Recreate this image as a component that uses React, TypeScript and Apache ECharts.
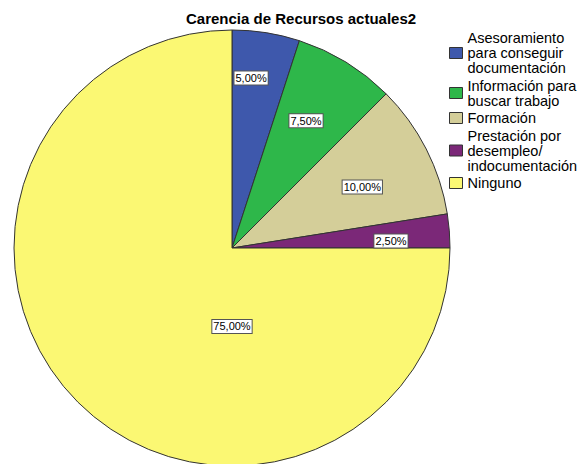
import React, { useEffect, useRef } from "react";
import * as echarts from "echarts";

const title = "Carencia de Recursos actuales2";
const categories = [
  "Asesoramiento\npara conseguir\ndocumentación",
  "Información para\nbuscar trabajo",
  "Formación",
  "Prestación por\ndesempleo/\nindocumentación",
  "Ninguno",
];
const counts = [2, 3, 4, 1, 30];
const colors = ["#3E58AC", "#2EB74A", "#D4CE99", "#7B2878", "#FBF873"];
// placement of the percentage labels: fraction of the radius, and angle shift (deg) from the slice middle
const labelRadiusFactor = [0.785, 0.675, 0.66, 0.73, 0.36];
const labelAngleShift = [-2.6, -1.3, 1.9, 2, -45];

const CX = 232;
const CY = 248;
const R = 218;
const FONT = "'Liberation Sans', Arial, sans-serif";

export default function App() {
  const ref = useRef<HTMLDivElement>(null);
  useEffect(() => {
    if (!ref.current) return;
    const chart = echarts.init(ref.current, undefined, { renderer: "svg" });
    const total = counts.reduce((a, b) => a + b, 0);
    chart.setOption({
      animation: false,
      backgroundColor: "#ffffff",
      title: {
        text: title,
        left: 186,
        top: 11,
        padding: 0,
        textStyle: { fontFamily: FONT, fontSize: 15, fontWeight: "bold", color: "#000" },
      },
      legend: {
        orient: "vertical",
        left: 449,
        top: 30.5,
        padding: 0,
        itemGap: 2.5,
        itemWidth: 13,
        itemHeight: 11,
        icon: "rect",
        selectedMode: false,
        itemStyle: { borderColor: "#333", borderWidth: 1 },
        textStyle: { fontFamily: FONT, fontSize: 14.5, lineHeight: 15, color: "#000" },
        data: categories,
      },
      series: [
        {
          type: "pie",
          center: [CX, CY],
          radius: [0, R],
          startAngle: 90,
          clockwise: true,
          silent: true,
          avoidLabelOverlap: false,
          itemStyle: { borderColor: "#333", borderWidth: 1 },
          label: {
            show: true,
            position: "inside",
            formatter: (p: any) =>
              ((p.value / total) * 100).toFixed(2).replace(".", ",") + "%",
            fontFamily: FONT,
            fontSize: 11,
            lineHeight: 12,
            color: "#000",
            backgroundColor: "#fff",
            borderColor: "#555",
            borderWidth: 1,
            padding: [1, 1, 0, 1],
          },
          labelLine: { show: false },
          labelLayout: (params: any) => {
            const i = params.dataIndex;
            let before = 0;
            for (let k = 0; k < i; k++) before += counts[k];
            const mid =
              ((before + counts[i] / 2) / total) * Math.PI * 2 +
              (labelAngleShift[i] * Math.PI) / 180;
            const r = R * labelRadiusFactor[i];
            return {
              x: CX + r * Math.sin(mid),
              y: CY - r * Math.cos(mid),
              align: "center",
              verticalAlign: "middle",
            };
          },
          data: categories.map((name, i) => ({
            name,
            value: counts[i],
            itemStyle: { color: colors[i] },
          })),
        },
      ],
    });
    return () => chart.dispose();
  }, []);
  return (
    <div
      ref={ref}
      style={{ position: "fixed", left: 0, top: 0, width: 583, height: 464 }}
    />
  );
}
